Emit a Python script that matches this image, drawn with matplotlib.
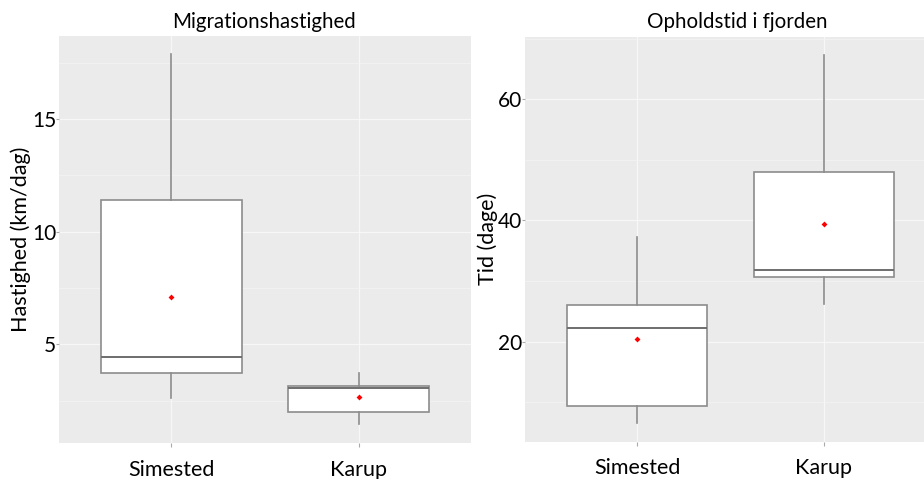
import numpy as np
import matplotlib
matplotlib.use('Agg')
import matplotlib.pyplot as plt

plt.rcParams['font.family'] = ['Lato', 'DejaVu Sans']

# categories and box statistics
groups = ['Simested', 'Karup']

# Migrationshastighed (km/dag)
speed_whislo = [2.60, 1.44]
speed_q1 = [3.71, 1.98]
speed_med = [4.45, 3.04]
speed_q3 = [11.41, 3.15]
speed_whishi = [17.86, 3.71]
speed_mean = [7.09, 2.67]

# Opholdstid i fjorden (dage)
time_whislo = [6.5, 26.2]
time_q1 = [9.4, 30.6]
time_med = [22.2, 31.8]
time_q3 = [26.0, 47.9]
time_whishi = [37.2, 67.2]
time_mean = [20.4, 39.4]

BG = '#EBEBEB'
EDGE = '#8C8C8C'


def make_stats(lo, q1, med, q3, hi):
    return [dict(whislo=a, q1=b, med=c, q3=d, whishi=e, fliers=[])
            for a, b, c, d, e in zip(lo, q1, med, q3, hi)]


def draw_panel(ax, stats, means, major, minor):
    ax.set_facecolor(BG)
    for s in ax.spines.values():
        s.set_visible(False)
    ax.set_yticks(major)
    ax.set_yticks(minor, minor=True)
    ax.grid(True, which='major', color='#F7F7F7', lw=0.9, zorder=0)
    ax.grid(True, which='minor', axis='y', color='#F4F4F4', lw=0.5, zorder=0)
    ax.set_axisbelow(True)
    ax.bxp(stats, positions=[1, 2], widths=0.75, showcaps=False,
           patch_artist=True,
           boxprops=dict(facecolor='white', edgecolor=EDGE, lw=1.2),
           medianprops=dict(color='#6E6E6E', lw=1.4),
           whiskerprops=dict(color=EDGE, lw=1.2),
           zorder=2)
    ax.plot([1, 2], means, 'D', color='red', ms=3, mec='none', zorder=3)
    ax.set_xlim(0.4, 2.6)
    ax.set_xticks([1, 2])
    ax.set_xticklabels(groups, fontsize=15.5)
    ax.tick_params(axis='x', length=3, color='#AAAAAA', pad=9)
    ax.tick_params(axis='y', which='major', length=2, color='#AAAAAA',
                   pad=0, labelsize=15)
    ax.tick_params(axis='y', which='minor', length=0)


fig = plt.figure(figsize=(9.24, 4.79), dpi=100)

ax1 = fig.add_axes([0.0639, 0.0752, 0.4459, 0.8497])
draw_panel(ax1, make_stats(speed_whislo, speed_q1, speed_med, speed_q3, speed_whishi),
           speed_mean, [5, 10, 15], [2.5, 7.5, 12.5, 17.5])
ax1.set_ylim(0.62, 18.68)
ax1.set_ylabel('Hastighed (km/dag)', fontsize=15.5, labelpad=1)
fig.text(264 / 924, 1 - 21.7 / 479, 'Migrationshastighed', ha='center',
         va='center', fontsize=14.8)

ax2 = fig.add_axes([0.5682, 0.0779, 0.4448, 0.8455])
draw_panel(ax2, make_stats(time_whislo, time_q1, time_med, time_q3, time_whishi),
           time_mean, [20, 40, 60], [10, 30, 50, 70])
ax2.set_ylim(3.5, 70.3)
ax2.set_ylabel('Tid (dage)', fontsize=15.5, labelpad=0)
fig.text(737 / 924, 1 - 21.7 / 479, 'Opholdstid i fjorden', ha='center',
         va='center', fontsize=14.8)

fig.savefig('out.png', dpi=100)
